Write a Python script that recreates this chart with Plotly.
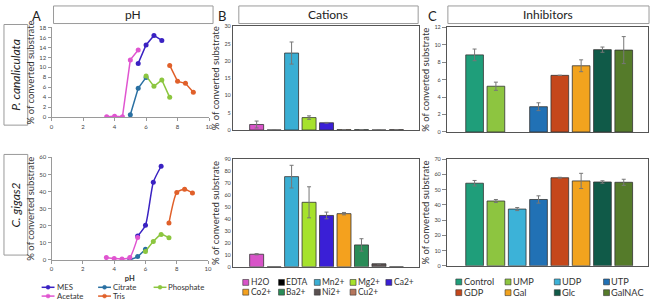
import plotly.graph_objects as go

W, H = 656, 303

# ---------------- Panel A : pH ----------------
ph_mes = [5.5, 6, 6.5, 7]
pc_mes = [10.8, 14.5, 16.4, 15.4]
cg_mes = [14.0, 20.3, 45.5, 54.8]

ph_acetate = [3.5, 4, 4.5, 5, 5.5]
pc_acetate = [0.1, 0.2, 0.1, 11.5, 13.5]
cg_acetate = [1.4, 0.8, 0.5, 1.5, 13.2]

ph_citrate = [5, 5.5, 6]
pc_citrate = [0.5, 5.8, 8.0]
cg_citrate = [0.2, 2.0, 6.2]

ph_phosphate = [6, 6.5, 7, 7.5]
pc_phosphate = [8.3, 6.2, 7.5, 4.0]
cg_phosphate = [5.0, 10.8, 14.9, 13.0]

ph_tris = [7.5, 8, 8.5, 9]
pc_tris = [10.4, 7.2, 6.8, 5.0]
cg_tris = [21.6, 39.4, 41.4, 39.2]

buffer_names = ["MES", "Citrate", "Phosphate", "Acetate", "Tris"]
buffer_colors = ["#3A22C2", "#2A70A2", "#8CC63F", "#E055D0", "#E0602A"]

# ---------------- Panel B : Cations ----------------
cations = ["H2O", "EDTA", "Mn2+", "Mg2+", "Ca2+", "Co2+", "Ba2+", "Ni2+", "Cu2+"]
cation_colors = ["#D854C8", "#000000", "#3AAED3", "#A6E22C", "#3A1FD6",
                 "#F4A11E", "#2A8C58", "#5A5050", "#B5765C"]
pc_cations = [1.6, 0, 22.3, 3.6, 2.1, 0.1, 0.1, 0, 0.1]
pc_cations_err = [1.0, 0, 3.2, 0.5, 0.1, 0, 0, 0, 0]
cg_cations = [10.5, 0, 75.5, 54.0, 43.0, 44.5, 18.3, 2.5, 0]
cg_cations_err = [0.5, 0, 9.5, 13.0, 2.8, 1.0, 5.2, 0, 0]

# ---------------- Panel C : Inhibitors ----------------
inhibitors = ["Control", "UMP", "UDP", "UTP", "GDP", "Gal", "Glc", "GalNAC"]
inhibitor_colors = ["#1F9E7A", "#8DC540", "#3CB2D8", "#2171B5",
                    "#C5471B", "#F2A31E", "#105A48", "#557B2A"]
pc_inhib = [8.85, 5.25, None, 2.9, 6.5, 7.6, 9.45, 9.4]
pc_inhib_err = [0.67, 0.47, 0, 0.45, 0, 0.68, 0.3, 1.55]
cg_inhib = [54.3, 42.6, 37.3, 43.6, 57.9, 55.8, 55.1, 54.9]
cg_inhib_err = [1.8, 1.0, 1.0, 2.4, 0.3, 5.0, 0.8, 2.0]

species = ["P. canaliculata", "C. gigas2"]
panel_titles = ["pH", "Cations", "Inhibitors"]
panel_letters = ["A", "B", "C"]
ytitle = "% of converted substrate"

FONT = "Lato"


def fx(x):
    return x / W


def fy(y):
    return 1 - y / H


fig = go.Figure()

# ---- line charts (A)
ph_x = [ph_mes, ph_citrate, ph_phosphate, ph_acetate, ph_tris]
pc_y = [pc_mes, pc_citrate, pc_phosphate, pc_acetate, pc_tris]
cg_y = [cg_mes, cg_citrate, cg_phosphate, cg_acetate, cg_tris]
for name, col, xs, ys in zip(buffer_names, buffer_colors, ph_x, pc_y):
    fig.add_trace(go.Scatter(x=xs, y=ys, name=name, mode="lines+markers",
                             line=dict(color=col, width=1.5),
                             marker=dict(color=col, size=5),
                             showlegend=False, xaxis="x", yaxis="y"))
for name, col, xs, ys in zip(buffer_names, buffer_colors, ph_x, cg_y):
    fig.add_trace(go.Scatter(x=xs, y=ys, name=name, mode="lines+markers",
                             line=dict(color=col, width=1.5, shape="spline", smoothing=0.6),
                             marker=dict(color=col, size=5),
                             showlegend=False, xaxis="x2", yaxis="y2"))

# ---- bar charts (B, C)
def bars(cats, vals, errs, colors, xa, ya, width):
    fig.add_trace(go.Bar(x=cats, y=vals, width=width,
                         marker=dict(color=colors, line=dict(color="#333333", width=0.8)),
                         error_y=dict(type="data", array=errs, color="#777777",
                                      thickness=1, width=2),
                         showlegend=False, xaxis=xa, yaxis=ya))


bars(cations, pc_cations, pc_cations_err, cation_colors, "x3", "y3", 0.8)
bars(cations, cg_cations, cg_cations_err, cation_colors, "x4", "y4", 0.8)
bars(inhibitors, pc_inhib, pc_inhib_err, inhibitor_colors, "x5", "y5", 0.83)
bars(inhibitors, cg_inhib, cg_inhib_err, inhibitor_colors, "x6", "y6", 0.83)

tickf = dict(family=FONT, size=6, color="#444444")
titlef = dict(family=FONT, size=9.5, color="#333333")

layout = dict(
    width=W, height=H, margin=dict(l=0, r=0, t=0, b=0),
    paper_bgcolor="white", plot_bgcolor="white", showlegend=False,
    font=dict(family=FONT),
)

# A axes
for i, (dom_x, dom_y, yr, dt, showtitle) in enumerate([
        ((50, 209), (24, 116), 18, 2, False),
        ((50, 208), (157, 262), 60, 10, True)]):
    n = "" if i == 0 else "2"
    layout["xaxis" + n] = dict(domain=[fx(dom_x[0]), fx(dom_x[1])], anchor="y" + n,
                               range=[0, 10], dtick=2, showline=True, linecolor="#9A9A9A",
                               ticks="outside", ticklen=3, tickcolor="#9A9A9A",
                               tickfont=tickf, showgrid=False, zeroline=False,
                               title=dict(text="<b>pH</b>" if showtitle else "",
                                          font=dict(family=FONT, size=7.5, color="#333333"),
                                          standoff=4))
    layout["yaxis" + n] = dict(domain=[fy(dom_y[1]), fy(dom_y[0])], anchor="x" + n,
                               range=[0, yr], dtick=dt, showline=True, linecolor="#9A9A9A",
                               ticks="outside", ticklen=3, tickcolor="#9A9A9A",
                               tickfont=tickf, showgrid=False, zeroline=False,
                               title=dict(text=ytitle, font=titlef, standoff=3))

# B and C axes
bc = [
    ("3", (233, 421), (23, 129), [-1.36, 9.3], 30, 5, 0),
    ("4", (233, 421), (159, 269), [-1.36, 9.3], 90, 10, 0),
    ("5", (449, 652), (24, 131), [-1.3, 8.14], 12, 2, 4),
    ("6", (449, 652), (159, 268), [-1.3, 8.14], 70, 10, 4),
]
for n, dx, dy, xr, yr, dt, tl in bc:
    layout["xaxis" + n] = dict(domain=[fx(dx[0]), fx(dx[1])], anchor="y" + n,
                               type="category", range=xr, showticklabels=False,
                               showline=True, mirror=True, linecolor="#555555",
                               ticks="", showgrid=False, zeroline=False)
    layout["yaxis" + n] = dict(domain=[fy(dy[1]), fy(dy[0])], anchor="x" + n,
                               range=[0, yr], dtick=dt, showline=True, mirror=True,
                               linecolor="#555555", ticks="outside" if tl else "",
                               ticklen=tl, tickcolor="#888888",
                               tickfont=dict(family=FONT, size=5.5, color="#444444"),
                               showgrid=False, zeroline=False,
                               title=dict(text=ytitle, font=titlef, standoff=3))

fig.update_layout(**layout)

shapes = []
annotations = []

# header boxes
for title, (x0, x1) in zip(panel_titles, [(52, 213), (239, 420), (450, 653)]):
    shapes.append(dict(type="rect", xref="paper", yref="paper",
                       x0=fx(x0), x1=fx(x1), y0=fy(20), y1=fy(2),
                       line=dict(color="#9A9A9A", width=1), fillcolor="white"))
    annotations.append(dict(text=title, xref="paper", yref="paper",
                            x=fx((x0 + x1) / 2), y=fy(11), showarrow=False,
                            xanchor="center", yanchor="middle",
                            font=dict(family=FONT, size=12, color="#222222")))

for letter, x in zip(panel_letters, [35, 222, 434]):
    annotations.append(dict(text=letter, xref="paper", yref="paper", x=fx(x), y=fy(12),
                            showarrow=False, xanchor="center", yanchor="middle",
                            font=dict(family=FONT, size=13, color="#222222")))

# species boxes
for sp, (y0, y1) in zip(species, [(21, 124), (154, 257)]):
    shapes.append(dict(type="rect", xref="paper", yref="paper",
                       x0=fx(2), x1=fx(26), y0=fy(y1), y1=fy(y0),
                       line=dict(color="#9A9A9A", width=1), fillcolor="white"))
    annotations.append(dict(text="<i>" + sp + "</i>", xref="paper", yref="paper",
                            x=fx(14), y=fy((y0 + y1) / 2), textangle=-90, showarrow=False,
                            xanchor="center", yanchor="middle",
                            font=dict(family=FONT, size=12, color="#222222")))

# legend A (line + marker samples)
legA_cols = [40, 97, 153]
legA_rows = [290, 299]
for k, (name, col) in enumerate(zip(buffer_names, buffer_colors)):
    r, c = divmod(k, 3)
    x0, y = legA_cols[c], legA_rows[r]
    shapes.append(dict(type="line", xref="paper", yref="paper",
                       x0=fx(x0), x1=fx(x0 + 13), y0=fy(y), y1=fy(y),
                       line=dict(color=col, width=1.5)))
    shapes.append(dict(type="circle", xref="paper", yref="paper",
                       x0=fx(x0 + 4.5), x1=fx(x0 + 8.5), y0=fy(y + 2), y1=fy(y - 2),
                       line=dict(color=col, width=0.5), fillcolor=col))
    annotations.append(dict(text=name, xref="paper", yref="paper", x=fx(x0 + 14), y=fy(y),
                            showarrow=False, xanchor="left", yanchor="middle", borderpad=0,
                            font=dict(family=FONT, size=7.8, color="#333333")))


def square_legend(names, colors, x_start, step, rows, per_row, size, fsize):
    for k, (name, col) in enumerate(zip(names, colors)):
        r, c = divmod(k, per_row)
        x0, y = x_start + c * step, rows[r]
        shapes.append(dict(type="rect", xref="paper", yref="paper",
                           x0=fx(x0), x1=fx(x0 + size), y0=fy(y + size / 2), y1=fy(y - size / 2),
                           line=dict(color="#333333", width=0.6), fillcolor=col))
        annotations.append(dict(text=name, xref="paper", yref="paper", x=fx(x0 + size + 1),
                                y=fy(y), showarrow=False, xanchor="left", yanchor="middle",
                                borderpad=0,
                                font=dict(family=FONT, size=fsize, color="#333333")))


square_legend(cations, cation_colors, 243, 36.1, [285, 295], 5, 6, 8.5)
square_legend(inhibitors, inhibitor_colors, 458, 49.7, [284.5, 295.5], 4, 6, 9.2)

fig.update_layout(shapes=shapes, annotations=annotations)
fig.write_html("out.html")
